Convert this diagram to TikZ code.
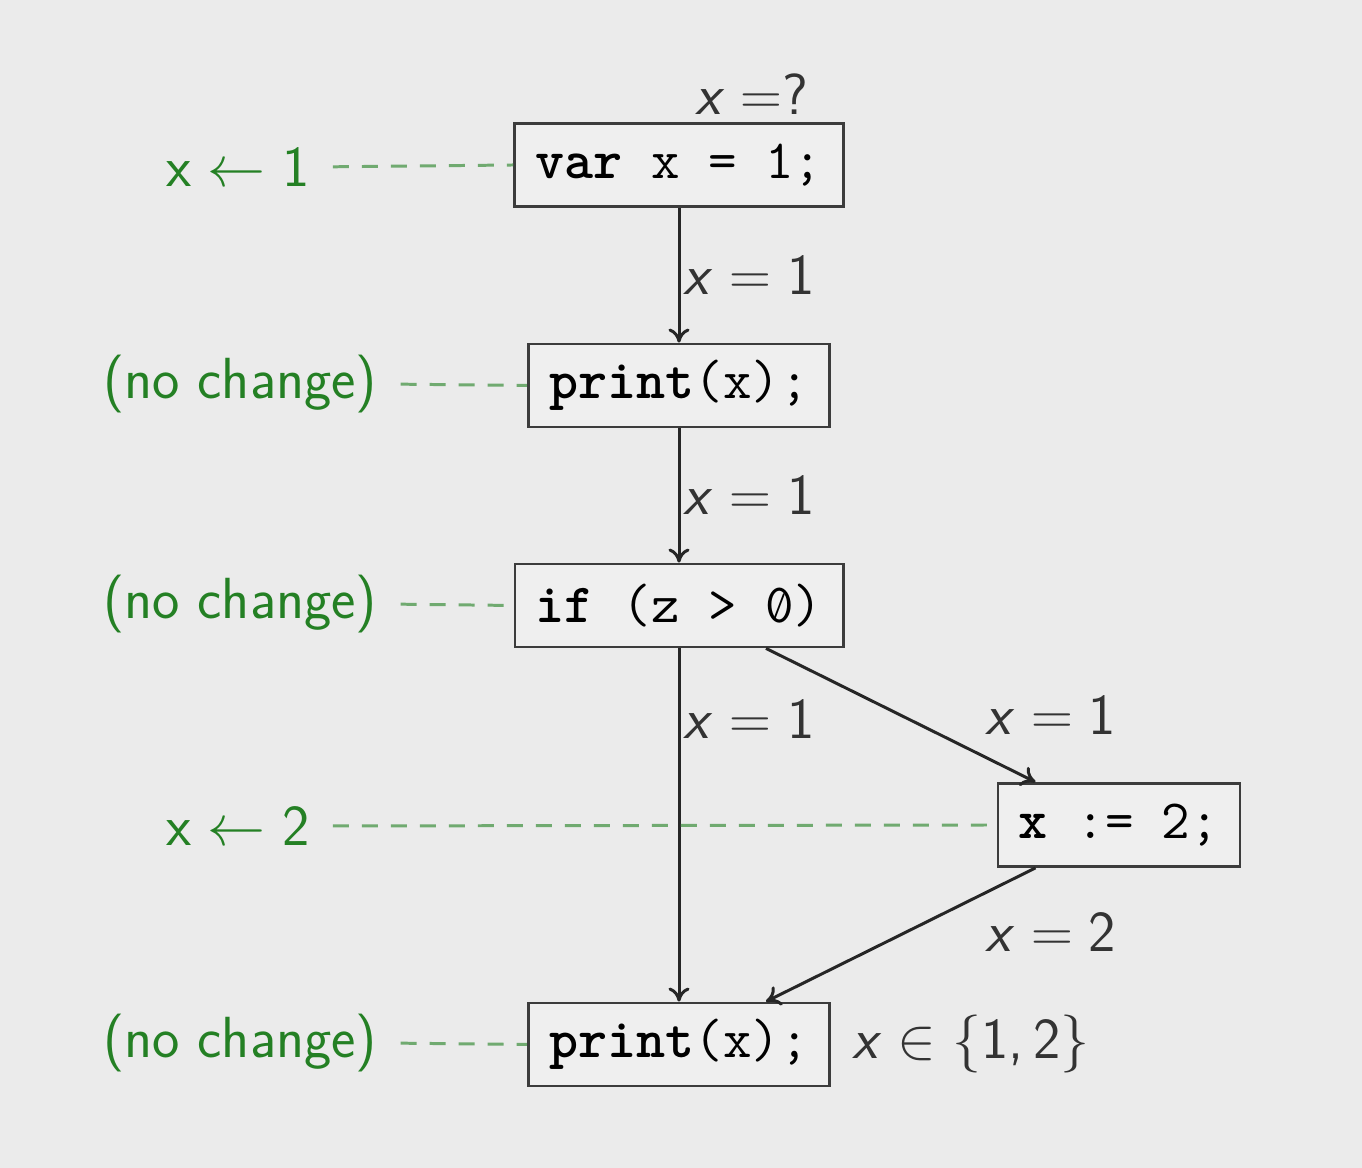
\RequirePackage{fix-cm}
\documentclass[tikz,border=0pt]{standalone}
\usepackage{amsmath,amssymb}
\usetikzlibrary{arrows.meta,positioning,calc}
\definecolor{slidebg}{RGB}{235,235,235}
\definecolor{boxfill}{RGB}{239,239,239}
\definecolor{boxline}{RGB}{60,60,60}
\definecolor{effgreen}{RGB}{36,128,36}
\definecolor{dashgreen}{RGB}{112,170,112}
\newcommand{\vx}{\textit{x}}
\newcommand{\zslash}{\ooalign{0\cr\hidewidth\raisebox{0.08em}{\scalebox{0.5}[0.62]{/}}\hidewidth}}

\begin{document}
\begin{tikzpicture}[
    font=\fontsize{33}{40}\selectfont\sffamily,
    stmt/.style={draw=boxline, fill=boxfill, line width=1.6pt, inner xsep=0.42cm,
                 minimum height=1.66cm, font=\fontsize{31.5}{38}\selectfont\ttfamily},
    flow/.style={-{To[length=8pt,width=12pt]}, line width=1.7pt, black!85},
    fact/.style={text=black!80},
    effect/.style={text=effgreen, anchor=center},
    tie/.style={dashgreen, line width=1.7pt, dash pattern=on 0.32cm off 0.26cm, shorten <=0.35cm}]
   \fill[slidebg] (0,0) rectangle (27.24,23.36);
   \useasboundingbox (0,0) rectangle (27.24,23.36);
   % statements
   \node[stmt] (decl) at (13.58,20.06) {\textbf{var} x = 1;};
   \node[stmt] (out1) at (13.58,15.65) {\textbf{print}(x);};
   \node[stmt] (cond) at (13.58,11.25) {\textbf{if} (z > \zslash)};
   \node[stmt] (asgn) at (22.38,6.86) {\textbf{x} := 2;};
   \node[stmt] (out2) at (13.58,2.47) {\textbf{print}(x);};
   \node[fact, above=0.02cm of decl.north, xshift=1.45cm] (init) {\vx${}=$?};
   \node[fact, right=0.3cm of out2] (join) {\vx${}\in{}\{$1,\,2$\}$};
   % control flow
   \draw[flow] (decl) -- node[fact, right, xshift=-0.05cm] {\vx${}={}$1} (out1);
   \draw[flow] (out1) -- node[fact, right, xshift=-0.05cm] {\vx${}={}$1} (cond);
   \draw[flow] (cond) -- node[fact, right, pos=0.2, xshift=-0.05cm] {\vx${}={}$1} (out2);
   \draw[flow] ([xshift=1.74cm]cond.south) -- node[fact, right=1.55cm] {\vx${}={}$1}
        ([xshift=0.78cm]asgn.north west);
   \draw[flow] ([xshift=0.78cm]asgn.south west) -- node[fact, right=1.55cm, yshift=0.05cm] {\vx${}={}$2}
        ([xshift=1.74cm]out2.north);
   % transfer functions
   \node[effect] (eff1) at (4.76,20.02) {x${}\leftarrow{}$1};
   \node[effect] (eff2) at (4.8,15.68) {(no change)};
   \node[effect] (eff3) at (4.8,11.28) {(no change)};
   \node[effect] (eff4) at (4.76,6.84) {x${}\leftarrow{}$2};
   \node[effect] (eff5) at (4.8,2.5) {(no change)};
   \draw[tie] (eff1.east) -- (decl.west);
   \draw[tie] (eff2.east) -- (out1.west);
   \draw[tie] (eff3.east) -- (cond.west);
   \draw[tie] (eff4.east) -- (asgn.west);
   \draw[tie] (eff5.east) -- (out2.west);
\end{tikzpicture}
\end{document}
